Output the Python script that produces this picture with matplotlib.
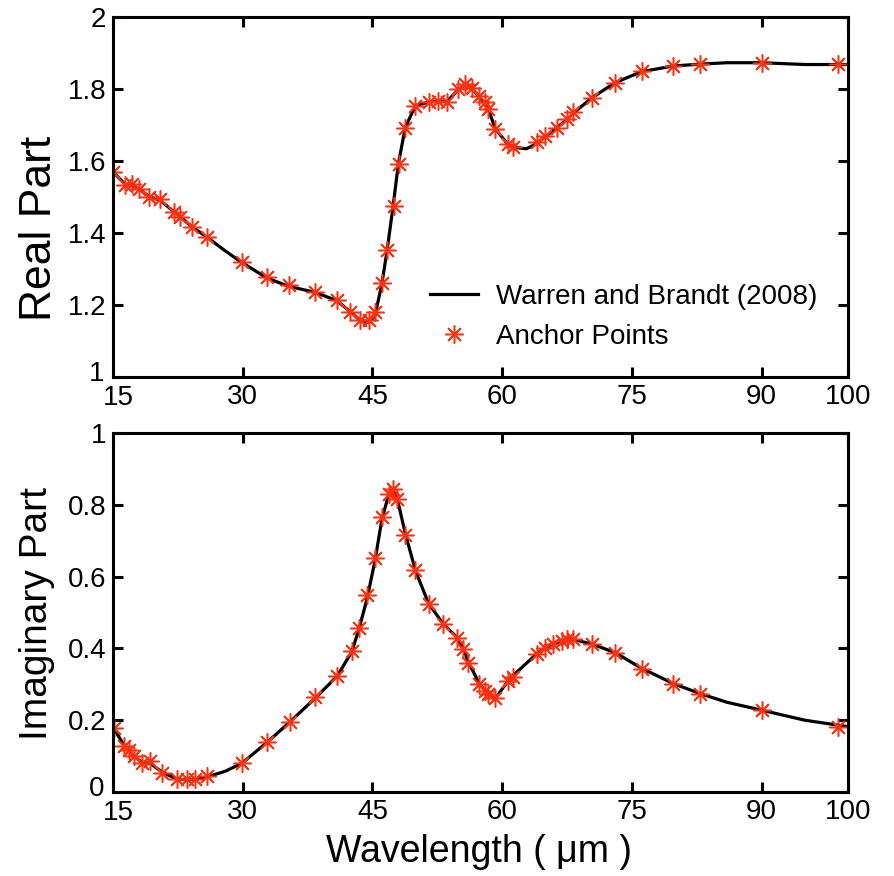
import matplotlib
matplotlib.use('Agg')
import matplotlib.pyplot as plt
from matplotlib.transforms import ScaledTranslation

plt.rcParams['font.family'] = ['Liberation Sans', 'DejaVu Sans']

# Warren and Brandt (2008) curve, real part
wl_wb_real = [15, 16.4, 17.2, 18, 19.1, 20.5, 22, 22.8, 24.1, 25.9, 28, 29.9, 32.8, 35.3, 38.4,
              40.9, 42.4, 43.6, 44.6, 45.3, 46.1, 46.7, 47.4, 48.0, 48.8, 50.0, 51.5, 52.6, 53.6,
              55.0, 55.7, 56.5, 57.3, 58.0, 58.4, 59.2, 60.7, 61.3, 62.8, 64.0, 65.0, 66.3, 67.5,
              68.2, 70.4, 73.1, 76.1, 79.8, 82.9, 86, 90, 95, 100]
n_wb = [1.57, 1.535, 1.532, 1.522, 1.503, 1.49, 1.46, 1.445, 1.418, 1.388, 1.35, 1.318, 1.275,
        1.252, 1.235, 1.212, 1.182, 1.158, 1.152, 1.17, 1.26, 1.352, 1.476, 1.592, 1.693, 1.755,
        1.763, 1.767, 1.765, 1.8, 1.812, 1.802, 1.78, 1.76, 1.745, 1.69, 1.645, 1.638, 1.634,
        1.648, 1.668, 1.692, 1.715, 1.732, 1.776, 1.818, 1.848, 1.864, 1.869, 1.873, 1.873,
        1.868, 1.868]

# anchor points, real part
wl_anchor_real = [15.05, 16.44, 17.22, 17.98, 19.14, 20.49, 22.02, 22.8, 24.15, 25.88, 29.93,
                  32.82, 35.31, 38.4, 40.9, 42.44, 43.6, 44.56, 45.33, 46.1, 46.68, 47.44, 48.02,
                  48.8, 49.95, 51.49, 52.64, 53.61, 54.95, 55.73, 56.5, 57.27, 58.04, 58.42, 59.19,
                  60.73, 61.31, 64.01, 64.97, 66.32, 67.48, 68.24, 70.37, 73.06, 76.14, 79.79,
                  82.88, 90.0, 98.86]
n_anchor = [1.569, 1.532, 1.537, 1.523, 1.499, 1.495, 1.458, 1.444, 1.416, 1.389, 1.319, 1.278,
            1.255, 1.236, 1.213, 1.181, 1.158, 1.158, 1.181, 1.26, 1.352, 1.476, 1.592, 1.693,
            1.753, 1.763, 1.767, 1.763, 1.8, 1.814, 1.804, 1.781, 1.763, 1.744, 1.689, 1.647,
            1.638, 1.652, 1.67, 1.693, 1.717, 1.735, 1.776, 1.818, 1.85, 1.864, 1.869, 1.873,
            1.869]

# Warren and Brandt (2008) curve, imaginary part
wl_wb_imag = [15, 16.3, 16.8, 17.4, 18.4, 19.3, 20.7, 22.4, 23.6, 24.5, 25.9, 28, 29.9, 32.8,
              35.5, 38.4, 40.9, 42.6, 43.4, 44.4, 45.3, 46.1, 46.9, 47.4, 47.8, 48.8, 50.0, 51.5,
              53.2, 54.8, 55.5, 56.1, 57.3, 58.0, 58.4, 59.2, 60.7, 61.3, 64.0, 65.0, 66.0, 66.9,
              67.5, 68.2, 70.4, 73.1, 76.1, 79.8, 82.9, 86, 90, 95, 100]
k_wb = [0.18, 0.13, 0.118, 0.1, 0.082, 0.08, 0.055, 0.036, 0.034, 0.035, 0.042, 0.058, 0.08,
        0.138, 0.196, 0.262, 0.322, 0.39, 0.45, 0.54, 0.645, 0.76, 0.83, 0.845, 0.825, 0.72,
        0.615, 0.525, 0.468, 0.43, 0.4, 0.362, 0.305, 0.282, 0.272, 0.26, 0.31, 0.325, 0.385,
        0.402, 0.412, 0.42, 0.424, 0.425, 0.412, 0.388, 0.345, 0.302, 0.274, 0.25, 0.228, 0.2,
        0.182]

# anchor points, imaginary part
wl_anchor_imag = [15.1, 16.25, 16.83, 17.4, 18.37, 19.33, 20.68, 22.42, 23.57, 24.53, 25.88,
                  29.93, 32.82, 35.5, 38.4, 40.9, 42.64, 43.4, 44.37, 45.33, 46.1, 46.87, 47.37,
                  47.84, 48.8, 49.95, 51.49, 53.22, 54.77, 55.53, 56.11, 57.27, 58.04, 58.42,
                  59.19, 60.73, 61.31, 64.0, 64.97, 65.93, 66.9, 67.48, 68.24, 70.37, 73.06,
                  76.14, 79.79, 82.88, 90.0, 98.86]
k_anchor = [0.177, 0.127, 0.117, 0.099, 0.081, 0.085, 0.053, 0.035, 0.035, 0.035, 0.044, 0.081,
            0.140, 0.196, 0.265, 0.324, 0.393, 0.457, 0.549, 0.653, 0.767, 0.830, 0.843, 0.816,
            0.717, 0.618, 0.524, 0.467, 0.428, 0.398, 0.359, 0.301, 0.280, 0.274, 0.262, 0.310,
            0.32, 0.385, 0.402, 0.411, 0.42, 0.425, 0.425, 0.411, 0.388, 0.343, 0.301, 0.274,
            0.228, 0.182]

x_ticks = [15, 30, 45, 60, 75, 90, 100]
real_ticks = [1, 1.2, 1.4, 1.6, 1.8, 2]
real_labels = ['1', '1.2', '1.4', '1.6', '1.8', '2']
imag_ticks = [0, 0.2, 0.4, 0.6, 0.8, 1]
imag_labels = ['0', '0.2', '0.4', '0.6', '0.8', '1']

RED = '#ff3010'
W, H = 894, 876
fig = plt.figure(figsize=(W / 100, H / 100), dpi=100)

left, right = 113 / W, 848 / W
ax1 = fig.add_axes([left, 1 - 377 / H, right - left, 360 / H])
ax2 = fig.add_axes([left, 1 - 792 / H, right - left, 359 / H])


def style(ax, yt, ylabs, ylim):
    ax.set_xlim(15, 100)
    ax.set_ylim(*ylim)
    ax.set_xticks(x_ticks)
    ax.set_xticklabels([str(t) for t in x_ticks])
    ax.set_yticks(yt)
    ax.set_yticklabels(ylabs)
    ax.tick_params(direction='in', length=7, width=2.2, top=True, right=True,
                   labelsize=20, pad=5)
    for s in ax.spines.values():
        s.set_linewidth(2.2)
    # corner labels ("15" and the lowest y value) nudged apart, as in the original
    first_x = ax.get_xticklabels()[0]
    first_x.set_transform(first_x.get_transform() + ScaledTranslation(4 / 72, -1 / 72, fig.dpi_scale_trans))
    first_y = ax.get_yticklabels()[0]
    first_y.set_transform(first_y.get_transform() + ScaledTranslation(-1 / 72, 4 / 72, fig.dpi_scale_trans))


ax1.plot(wl_wb_real, n_wb, color='black', lw=2.3, label='Warren and Brandt (2008)')
ax1.plot(wl_anchor_real, n_anchor, ls='none', marker=(8, 2, 0), ms=13, mew=1.1,
         color=RED, label='Anchor Points')
style(ax1, real_ticks, real_labels, (1, 2))
ax1.legend(loc='center left', bbox_to_anchor=(0.431, 0.167), frameon=False, fontsize=20,
           handlelength=1.75, handletextpad=0.65, labelspacing=0.48, borderpad=0,
           borderaxespad=0)

ax2.plot(wl_wb_imag, k_wb, color='black', lw=2.3)
ax2.plot(wl_anchor_imag, k_anchor, ls='none', marker=(8, 2, 0), ms=13, mew=1.1, color=RED)
style(ax2, imag_ticks, imag_labels, (0, 1))

fig.text(40 / W, 1 - 228 / H, 'Real Part', rotation=90, ha='center', va='center', fontsize=32)
fig.text(37 / W, 1 - 613 / H, 'Imaginary Part', rotation=90, ha='center', va='center',
         fontsize=28)
fig.text(479 / W, 1 - 852 / H, 'Wavelength ( μm )', ha='center', va='center', fontsize=27)

fig.savefig('out.png', dpi=100, facecolor='white')
